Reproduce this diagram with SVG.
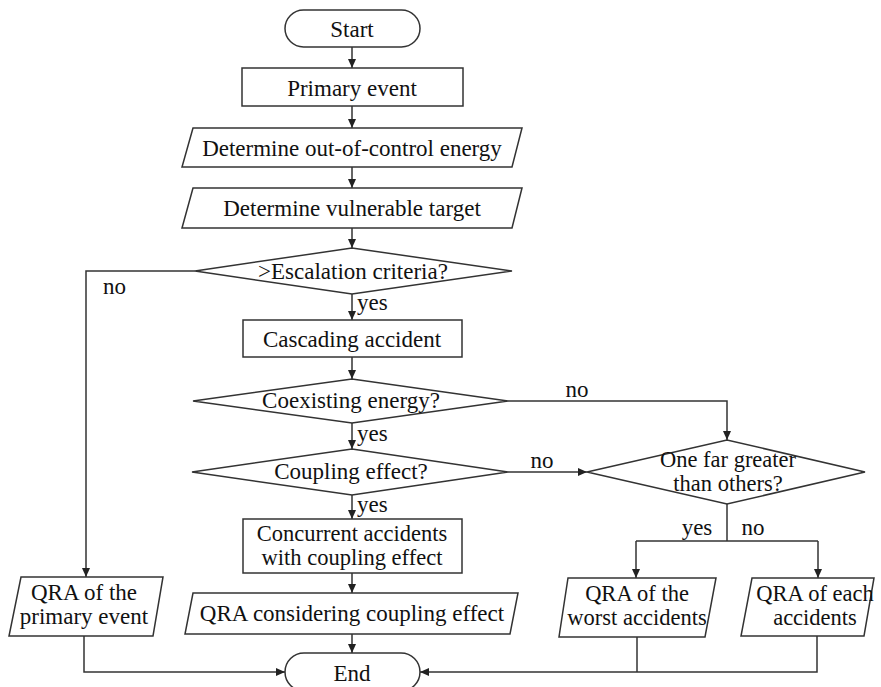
<svg xmlns="http://www.w3.org/2000/svg" width="881" height="687" viewBox="0 0 881 687">
<defs>
<marker id="ah" markerWidth="10" markerHeight="8" refX="9" refY="4" orient="auto" markerUnits="userSpaceOnUse">
<path d="M0,0 L9,4 L0,8 Z" fill="#222"/>
</marker>
<style>
.s{fill:#fff;stroke:#333;stroke-width:1.5}
.c{fill:none;stroke:#333;stroke-width:1.5}
.a{marker-end:url(#ah)}
text{font-family:"Liberation Serif","Times New Roman",serif;font-size:23px;fill:#111}
.m{text-anchor:middle}
.t{font-size:22.5px}
</style>
</defs>
<rect width="881" height="687" fill="#fff"/>
<g id="connectors">
<line class="c a" x1="352" y1="47" x2="352" y2="68"/>
<line class="c a" x1="352" y1="106" x2="352" y2="128"/>
<line class="c a" x1="352" y1="167" x2="352" y2="188"/>
<line class="c a" x1="352" y1="228" x2="352" y2="248"/>
<line class="c a" x1="352" y1="294" x2="352" y2="320"/>
<line class="c a" x1="352" y1="357" x2="352" y2="379"/>
<line class="c a" x1="352" y1="423" x2="352" y2="449"/>
<line class="c a" x1="352" y1="495" x2="352" y2="519"/>
<line class="c a" x1="352" y1="573" x2="352" y2="593"/>
<line class="c a" x1="352" y1="634" x2="352" y2="653"/>
<polyline class="c a" points="195,271 86,271 86,577"/>
<polyline class="c a" points="84,636 84,672 285,672"/>
<polyline class="c a" points="508,401 727,401 727,440"/>
<line class="c a" x1="508" y1="472" x2="587" y2="472"/>
<line class="c" x1="727" y1="504" x2="727" y2="541"/>
<line class="c" x1="636" y1="541" x2="818" y2="541"/>
<line class="c a" x1="636" y1="541" x2="636" y2="578"/>
<line class="c a" x1="818" y1="541" x2="818" y2="578"/>
<line class="c" x1="637" y1="637" x2="637" y2="672"/>
<polyline class="c a" points="817,636 817,672 420,672"/>
<text x="103" y="294">no</text>
<text x="357" y="310">yes</text>
<text x="357" y="441">yes</text>
<text x="357" y="512">yes</text>
<text x="577" y="397" class="m">no</text>
<text x="542" y="468" class="m">no</text>
<text x="697" y="535" class="m">yes</text>
<text x="753" y="535" class="m">no</text>
</g>
<g id="start"><rect class="s" x="285" y="10" width="135" height="37" rx="18.5"/><text x="352" y="37" class="m">Start</text></g>
<g id="primary"><rect class="s" x="242" y="68" width="221" height="38"/><text x="352" y="96" class="m">Primary event</text></g>
<g id="energy"><polygon class="s" points="193,128 522,128 512,167 182,167"/><text x="352" y="156" class="m">Determine out-of-control energy</text></g>
<g id="target"><polygon class="s" points="193,188 522,188 512,228 182,228"/><text x="352" y="216" class="m">Determine vulnerable target</text></g>
<g id="escalation"><polygon class="s" points="195,271 352,248 512,271 352,294"/><text x="353" y="279" class="m">&gt;Escalation criteria?</text></g>
<g id="cascading"><rect class="s" x="243" y="320" width="219" height="37"/><text x="352" y="347" class="m">Cascading accident</text></g>
<g id="coexisting"><polygon class="s" points="193,401 352,379 508,401 352,423"/><text x="351" y="408" class="m">Coexisting energy?</text></g>
<g id="coupling"><polygon class="s" points="192,472 352,449 508,472 352,495"/><text x="351" y="479" class="m">Coupling effect?</text></g>
<g id="concurrent"><rect class="s" x="243" y="519" width="219" height="54"/><text x="352" y="541" class="m t">Concurrent accidents</text><text x="352" y="565" class="m t">with coupling effect</text></g>
<g id="qra-coupling"><polygon class="s" points="193,593 518,593 510,634 185,634"/><text x="352" y="621" class="m">QRA considering coupling effect</text></g>
<g id="qra-primary"><polygon class="s" points="21,577 163,577 153,636 9,636"/><text x="84" y="600" class="m">QRA of the</text><text x="84" y="624" class="m">primary event</text></g>
<g id="far-greater"><polygon class="s" points="587,472 727,440 865,472 727,504"/><text x="728" y="467" class="m t">One far greater</text><text x="728" y="491" class="m t">than others?</text></g>
<g id="qra-worst"><polygon class="s" points="568,578 716,578 705,637 559,637"/><text x="637" y="601" class="m t">QRA of the</text><text x="637" y="625" class="m t">worst accidents</text></g>
<g id="qra-each"><polygon class="s" points="752,578 874,578 864,636 741,636"/><text x="815" y="601" class="m t">QRA of each</text><text x="815" y="625" class="m t">accidents</text></g>
<g id="end"><rect class="s" x="285" y="653" width="135" height="38" rx="19"/><text x="352" y="681" class="m">End</text></g>
</svg>
